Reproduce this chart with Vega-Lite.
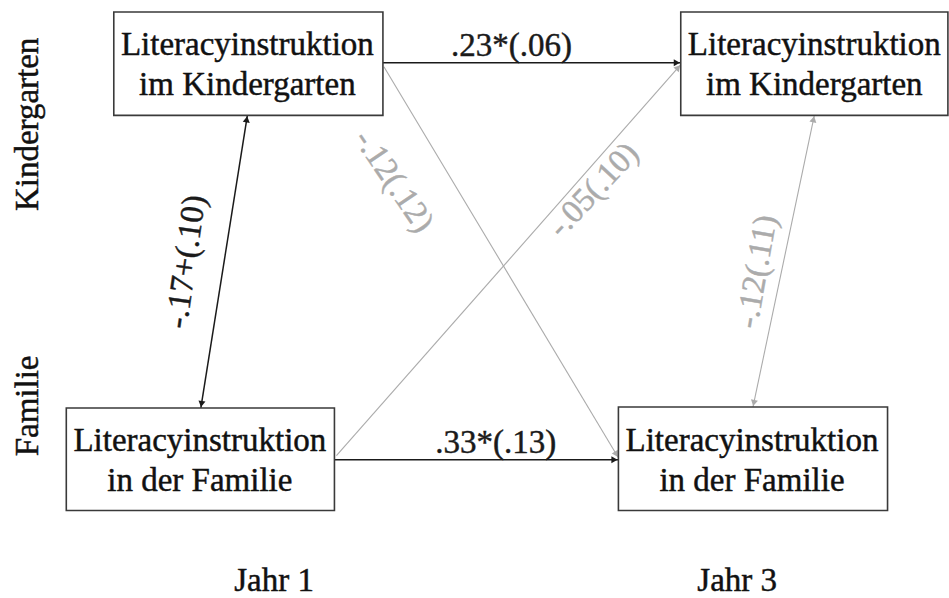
{
  "$schema": "https://vega.github.io/schema/vega-lite/v6.json",
  "width": 949,
  "height": 598,
  "padding": 0,
  "autosize": {"type": "fit", "contains": "padding"},
  "background": "white",
  "config": {"view": {"stroke": null}},
  "datasets": {
    "boxes": [
      {"box": "K1", "x1": 115, "x2": 387, "y1": 12, "y2": 116},
      {"box": "K3", "x1": 688, "x2": 958, "y1": 12, "y2": 116},
      {"box": "F1", "x1": 67, "x2": 338, "y1": 410, "y2": 513},
      {"box": "F3", "x1": 625, "x2": 897, "y1": 409, "y2": 513}
    ],
    "edges": [
      {"path": "K1-K3", "sig": "sig", "both": false, "x1": 387, "y1": 63, "x2": 688, "y2": 63},
      {"path": "F1-F3", "sig": "sig", "both": false, "x1": 338, "y1": 462, "x2": 625, "y2": 462},
      {"path": "K1-F1", "sig": "sig", "both": true, "x1": 250, "y1": 116, "x2": 203, "y2": 410},
      {"path": "K3-F3", "sig": "ns", "both": true, "x1": 823, "y1": 116, "x2": 761, "y2": 409},
      {"path": "K1-F3", "sig": "ns", "both": false, "x1": 388, "y1": 67, "x2": 625, "y2": 460},
      {"path": "F1-K3", "sig": "ns", "both": false, "x1": 340, "y1": 458, "x2": 688, "y2": 65}
    ],
    "labels": [
      {"text": "Literacyinstruktion", "sig": "box", "x": 250, "y": 55},
      {"text": "im Kindergarten", "sig": "box", "x": 250, "y": 95},
      {"text": "Literacyinstruktion", "sig": "box", "x": 823, "y": 55},
      {"text": "im Kindergarten", "sig": "box", "x": 823, "y": 95},
      {"text": "Literacyinstruktion", "sig": "box", "x": 202, "y": 453},
      {"text": "in der Familie", "sig": "box", "x": 202, "y": 493},
      {"text": "Literacyinstruktion", "sig": "box", "x": 760, "y": 453},
      {"text": "in der Familie", "sig": "box", "x": 760, "y": 493},
      {"text": ".23*(.06)", "sig": "sig", "x": 517, "y": 56},
      {"text": ".33*(.13)", "sig": "sig", "x": 501, "y": 455},
      {"text": "Jahr 1", "sig": "box", "x": 277, "y": 594},
      {"text": "Jahr 3", "sig": "box", "x": 745, "y": 594}
    ],
    "rotated": [
      {"text": "-.17+(.10)", "sig": "sig", "x": 188, "y": 263, "angle": 278},
      {"text": "-.12(.12)", "sig": "ns", "x": 398, "y": 182, "angle": 56},
      {"text": "-.05(.10)", "sig": "ns", "x": 600, "y": 191, "angle": 313},
      {"text": "-.12(.11)", "sig": "ns", "x": 765, "y": 273, "angle": 280},
      {"text": "Kindergarten", "sig": "box", "x": 28, "y": 125, "angle": 270},
      {"text": "Familie", "sig": "box", "x": 28, "y": 408, "angle": 270}
    ]
  },
  "layer": [
    {
      "data": {"name": "edges"},
      "mark": {"type": "rule"},
      "encoding": {
        "x": {"field": "x1", "type": "quantitative", "scale": {"domain": [0, 949], "nice": false, "zero": false}, "axis": null},
        "y": {"field": "y1", "type": "quantitative", "scale": {"domain": [0, 598], "nice": false, "zero": false, "reverse": true}, "axis": null},
        "x2": {"field": "x2"},
        "y2": {"field": "y2"},
        "color": {"field": "sig", "type": "nominal", "scale": {"domain": ["sig", "ns", "box"], "range": ["#1a1a1a", "#ababab", "#111111"]}, "legend": null},
        "strokeWidth": {"field": "sig", "type": "nominal", "scale": {"domain": ["sig", "ns"], "range": [1.5, 1.1]}, "legend": null}
      }
    },
    {
      "data": {"name": "edges"},
      "transform": [
        {"calculate": "sqrt(pow(datum.x2-datum.x1,2)+pow(datum.y2-datum.y1,2))", "as": "len"},
        {"calculate": "datum.x2 - 4*(datum.x2-datum.x1)/datum.len", "as": "hx"},
        {"calculate": "datum.y2 - 4*(datum.y2-datum.y1)/datum.len", "as": "hy"},
        {"calculate": "atan2(datum.x2-datum.x1, datum.y1-datum.y2)*180/PI", "as": "ang"}
      ],
      "mark": {"type": "point", "shape": "triangle-up", "filled": true, "size": 50, "opacity": 1},
      "encoding": {
        "x": {"field": "hx", "type": "quantitative"},
        "y": {"field": "hy", "type": "quantitative"},
        "angle": {"field": "ang", "type": "quantitative", "scale": null},
        "color": {"field": "sig", "type": "nominal"}
      }
    },
    {
      "data": {"name": "edges"},
      "transform": [
        {"filter": "datum.both"},
        {"calculate": "sqrt(pow(datum.x2-datum.x1,2)+pow(datum.y2-datum.y1,2))", "as": "len"},
        {"calculate": "datum.x1 - 4*(datum.x1-datum.x2)/datum.len", "as": "hx"},
        {"calculate": "datum.y1 - 4*(datum.y1-datum.y2)/datum.len", "as": "hy"},
        {"calculate": "atan2(datum.x1-datum.x2, datum.y2-datum.y1)*180/PI", "as": "ang"}
      ],
      "mark": {"type": "point", "shape": "triangle-up", "filled": true, "size": 50, "opacity": 1},
      "encoding": {
        "x": {"field": "hx", "type": "quantitative"},
        "y": {"field": "hy", "type": "quantitative"},
        "angle": {"field": "ang", "type": "quantitative", "scale": null},
        "color": {"field": "sig", "type": "nominal"}
      }
    },
    {
      "data": {"name": "boxes"},
      "mark": {"type": "rect", "fill": "white", "stroke": "#3a3a3a", "strokeWidth": 1.6},
      "encoding": {
        "x": {"field": "x1", "type": "quantitative"},
        "x2": {"field": "x2"},
        "y": {"field": "y1", "type": "quantitative"},
        "y2": {"field": "y2"}
      }
    },
    {
      "data": {"name": "labels"},
      "mark": {"type": "text", "font": "Liberation Serif", "fontSize": 33, "align": "center", "baseline": "alphabetic", "strokeWidth": 0.45},
      "encoding": {
        "x": {"field": "x", "type": "quantitative"},
        "y": {"field": "y", "type": "quantitative"},
        "text": {"field": "text"},
        "color": {"field": "sig", "type": "nominal"},
        "stroke": {"field": "sig", "type": "nominal", "scale": {"domain": ["sig", "ns", "box"], "range": ["#1a1a1a", "#ababab", "#111111"]}, "legend": null}
      }
    },
    {
      "data": {"name": "rotated"},
      "mark": {"type": "text", "font": "Liberation Serif", "fontSize": 33, "align": "center", "baseline": "middle", "strokeWidth": 0.45},
      "encoding": {
        "x": {"field": "x", "type": "quantitative"},
        "y": {"field": "y", "type": "quantitative"},
        "angle": {"field": "angle", "type": "quantitative", "scale": null},
        "text": {"field": "text"},
        "color": {"field": "sig", "type": "nominal"},
        "stroke": {"field": "sig", "type": "nominal"}
      }
    }
  ]
}
